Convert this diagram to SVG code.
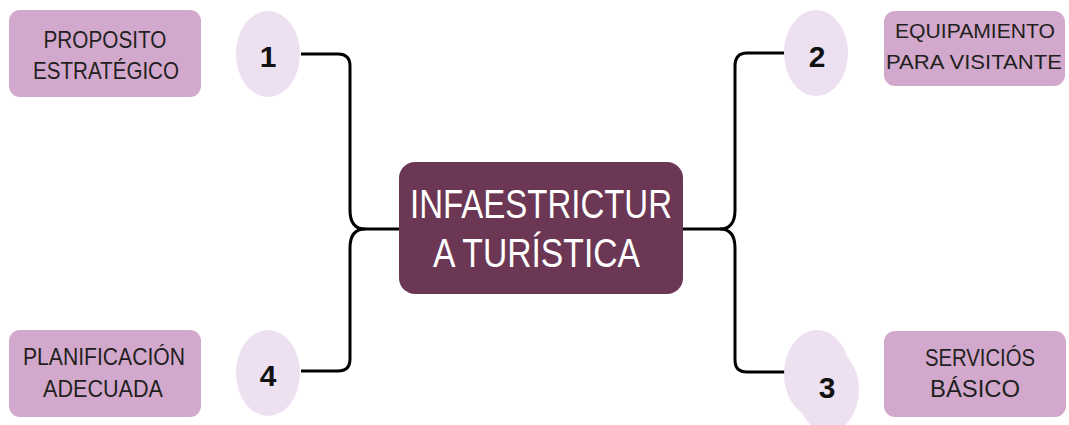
<svg xmlns="http://www.w3.org/2000/svg" width="1069" height="425" viewBox="0 0 1069 425">
<style>
.box{fill:#d2a9cd}
.num{fill:#ede0f1}
.lbl{font-family:"Liberation Sans",Arial,sans-serif;font-size:24px;fill:#231f20;text-anchor:middle}
.sm{font-size:21px}
.n{font-family:"Liberation Sans",Arial,sans-serif;font-size:30px;font-weight:bold;fill:#111;text-anchor:middle}
.c{font-family:"Liberation Sans",Arial,sans-serif;font-size:40px;fill:#fff}
.con{fill:none;stroke:#000;stroke-width:3;stroke-linecap:butt}
</style>
<rect width="1069" height="425" fill="#fff"/>
<g id="connectors">
<path class="con" d="M301,54 H338 Q350,54 350,66 V210 Q350,229 365,229 H400"/>
<path class="con" d="M301,371 H338 Q350,371 350,359 V248 Q350,229 365,229"/>
<path class="con" d="M683,229 H720 Q735,229 735,210 V66 Q735,53 747,53 H784"/>
<path class="con" d="M720,229 Q735,229 735,248 V360 Q735,372 747,372 H786"/>
</g>
<g id="center">
<rect x="399" y="162" width="284" height="132" rx="16" fill="#6b3754"/>
<text class="c" x="410" y="218" textLength="262" lengthAdjust="spacingAndGlyphs">INFAESTRICTUR</text>
<text class="c" x="433" y="267" textLength="207" lengthAdjust="spacingAndGlyphs">A TURÍSTICA</text>
</g>
<g id="node1">
<rect class="box" x="9" y="10" width="192" height="87" rx="11"/>
<text class="lbl" x="105" y="48" textLength="123" lengthAdjust="spacingAndGlyphs">PROPOSITO</text>
<text class="lbl" x="106" y="79" textLength="146" lengthAdjust="spacingAndGlyphs">ESTRATÉGICO</text>
<ellipse class="num" cx="268" cy="54" rx="32" ry="43"/>
<text class="n" x="268" y="67">1</text>
</g>
<g id="node2">
<rect class="box" x="884" y="11" width="181" height="75" rx="11"/>
<text class="lbl sm" x="975" y="38" textLength="160" lengthAdjust="spacingAndGlyphs">EQUIPAMIENTO</text>
<text class="lbl sm" x="974" y="69" textLength="176" lengthAdjust="spacingAndGlyphs">PARA VISITANTE</text>
<ellipse class="num" cx="816" cy="53" rx="32" ry="43"/>
<text class="n" x="817" y="67">2</text>
</g>
<g id="node3">
<rect class="box" x="884" y="331" width="182" height="86" rx="11"/>
<text class="lbl" x="980" y="366" textLength="110" lengthAdjust="spacingAndGlyphs">SERVICIÓS</text>
<text class="lbl" x="975" y="397" textLength="90" lengthAdjust="spacingAndGlyphs">BÁSICO</text>
<ellipse class="num" cx="817" cy="374" rx="33" ry="44"/>
<ellipse class="num" cx="828" cy="390" rx="31" ry="42"/>
<text class="n" x="827" y="398">3</text>
</g>
<g id="node4">
<rect class="box" x="9" y="330" width="192" height="87" rx="11"/>
<text class="lbl" x="104" y="365" textLength="162" lengthAdjust="spacingAndGlyphs">PLANIFICACIÓN</text>
<text class="lbl" x="103" y="397" textLength="120" lengthAdjust="spacingAndGlyphs">ADECUADA</text>
<ellipse class="num" cx="268" cy="373" rx="32" ry="43"/>
<text class="n" x="268" y="386">4</text>
</g>
</svg>
